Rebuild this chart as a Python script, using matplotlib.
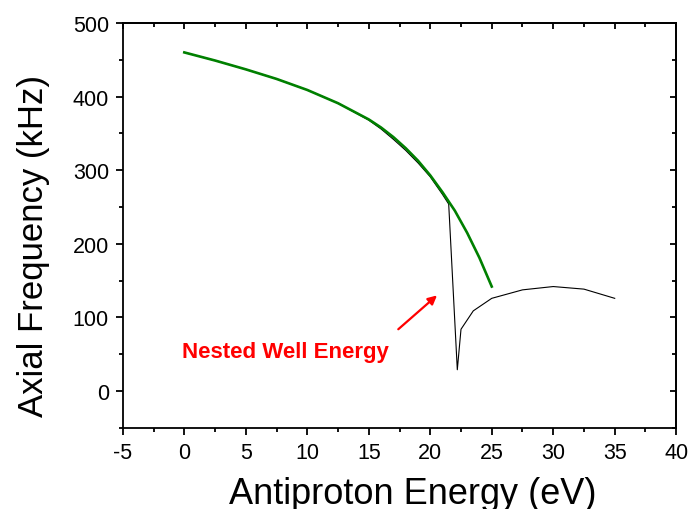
import matplotlib
matplotlib.use("Agg")
import matplotlib.pyplot as plt
from matplotlib.ticker import MultipleLocator

plt.rcParams["font.family"] = ["Liberation Sans", "DejaVu Sans"]
plt.rcParams["axes.unicode_minus"] = False

# calculated axial frequency vs. particle energy (single well)
fit_energy = [0, 2.5, 5, 7.5, 10, 12.5, 15, 16, 17, 18, 19, 20, 21, 22, 23, 24, 25]
fit_freq = [460, 449, 437, 424, 409, 391, 369, 358, 345, 330, 313, 293, 270,
            245, 215, 181, 142]

# measured / simulated curve through the nested well
sim_energy = [0, 2.5, 5, 7.5, 10, 12.5, 15, 16, 17, 18, 19, 20, 21, 21.5,
              22.2, 22.5, 23.5, 25, 27.5, 30, 32.5, 35]
sim_freq = [460, 449, 437, 424, 409, 391, 368, 356, 342, 327, 310, 291, 267,
            254, 29, 84, 109, 126, 137.5, 142, 138.5, 126]

annot_text = "Nested Well Energy"
annot_xy = (20.55, 130)
annot_text_xy = (8.2, 54)
arrow_tail = (17.4, 84)

fig = plt.figure(figsize=(6.9, 5.1), dpi=100)
ax = fig.add_axes([0.178, 0.159, 0.802, 0.794])

ax.plot(sim_energy, sim_freq, color="black", lw=0.8, zorder=2)
ax.plot(fit_energy, fit_freq, color="green", lw=1.9, zorder=3)

ax.annotate("", xy=annot_xy, xytext=arrow_tail,
            arrowprops=dict(arrowstyle="-|>", color="red", lw=1.6,
                            mutation_scale=13, shrinkA=0, shrinkB=0))
ax.text(*annot_text_xy, annot_text, color="red", fontsize=16,
        fontweight="bold", ha="center", va="center")

ax.set_xlim(-5, 40)
ax.set_ylim(-50, 500)
ax.xaxis.set_major_locator(MultipleLocator(5))
ax.xaxis.set_minor_locator(MultipleLocator(2.5))
ax.yaxis.set_major_locator(MultipleLocator(100))
ax.yaxis.set_minor_locator(MultipleLocator(50))

LW = 1.3
for s in ax.spines.values():
    s.set_linewidth(LW)

ax.tick_params(which="both", direction="out", width=LW, labelsize=15.5,
               top=False, right=False)
ax.tick_params(which="major", length=5, pad=5)
ax.tick_params(which="minor", length=2.7)

# inward ticks mirrored on top and right spines
for side in ("top", "right"):
    sec = ax.secondary_xaxis("top") if side == "top" else ax.secondary_yaxis("right")
    axis = sec.xaxis if side == "top" else sec.yaxis
    axis.set_major_locator(MultipleLocator(5 if side == "top" else 100))
    axis.set_minor_locator(MultipleLocator(2.5 if side == "top" else 50))
    sec.tick_params(which="both", direction="in", width=LW, labelleft=False,
                    labeltop=False, labelright=False, labelbottom=False)
    sec.tick_params(which="major", length=4)
    sec.tick_params(which="minor", length=3)
    sec.spines[side].set_linewidth(LW)

ax.set_xlabel("Antiproton Energy (eV)", fontsize=26)
ax.xaxis.set_label_coords(0.524, -0.119)
ax.set_ylabel("Axial Frequency (kHz)", fontsize=25)
ax.yaxis.set_label_coords(-0.132, 0.452)

fig.savefig("out.png", dpi=100)
